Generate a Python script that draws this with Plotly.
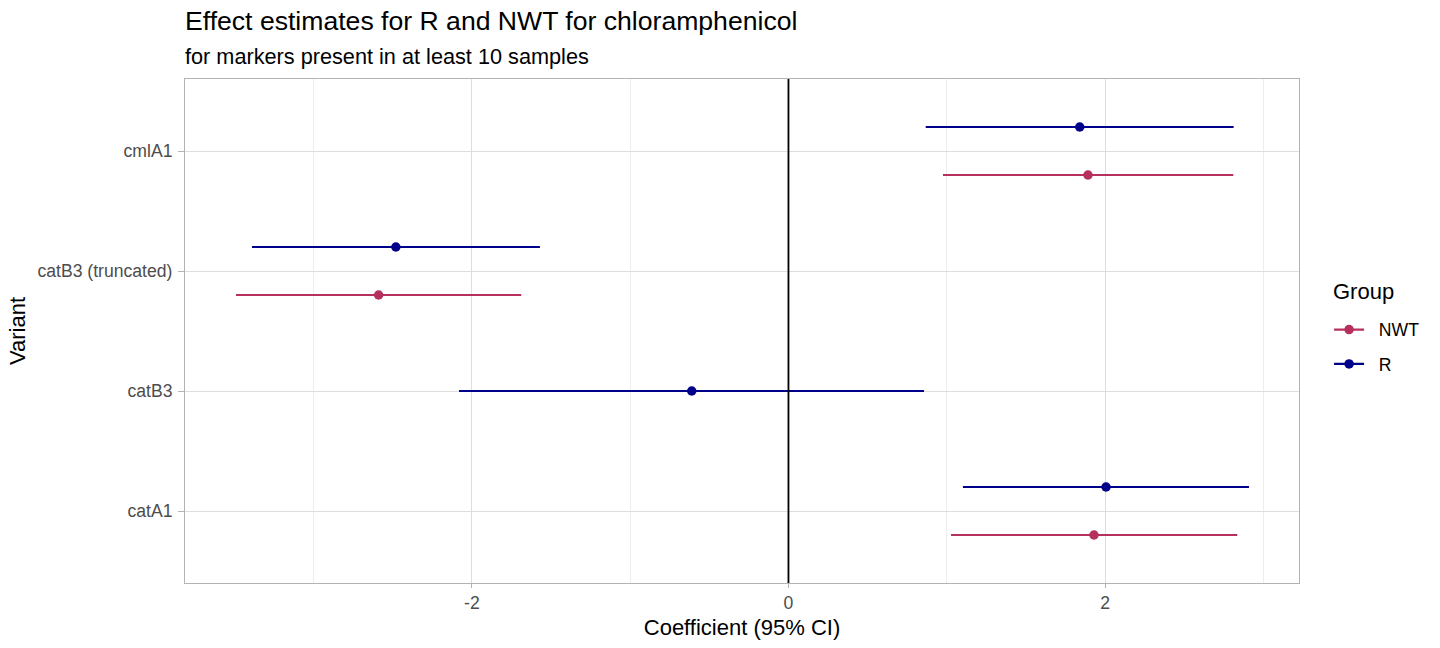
import plotly.graph_objects as go

# ---- data ----
variants = ["catA1", "catB3", "catB3 (truncated)", "cmlA1"]   # bottom -> top

groups = ["NWT", "R"]
colors = {"NWT": "#B5305F", "R": "#00008B"}

# per group: variant, estimate, lower CI, upper CI
nwt_variant = ["cmlA1", "catB3 (truncated)", "catA1"]
nwt_est = [1.892, -2.589, 1.930]
nwt_lo = [0.976, -3.490, 1.027]
nwt_hi = [2.810, -1.688, 2.835]

r_variant = ["cmlA1", "catB3 (truncated)", "catB3", "catA1"]
r_est = [1.840, -2.480, -0.611, 2.006]
r_lo = [0.867, -3.389, -2.081, 1.102]
r_hi = [2.812, -1.570, 0.856, 2.909]

x_ticks = [-2, 0, 2]
x_minor = [-3, -1, 1, 3]

data = {
    "NWT": (nwt_variant, nwt_est, nwt_lo, nwt_hi),
    "R": (r_variant, r_est, r_lo, r_hi),
}

FONT = "Liberation Sans, Arial, sans-serif"
pos = {v: i + 1 for i, v in enumerate(variants)}

# dodge: count groups present per variant
present = {v: [g for g in groups if v in data[g][0]] for v in variants}
dodge_w = 0.8


def ypos(v, g):
    gs = present[v]
    n = len(gs)
    if n == 1:
        return pos[v]
    k = gs.index(g)
    return pos[v] - dodge_w / 2 + dodge_w * (k + 0.5) / n


fig = go.Figure()

# zero line
fig.add_shape(type="line", xref="x", yref="paper", x0=0, x1=0, y0=0, y1=1,
              line=dict(color="black", width=1.8), layer="above")

for g in groups:
    vs, est, lo, hi = data[g]
    lx, ly = [], []
    for v, a, b in zip(vs, lo, hi):
        y = ypos(v, g)
        lx += [a, b, None]
        ly += [y, y, None]
    fig.add_trace(go.Scatter(x=lx, y=ly, mode="lines", legendgroup=g,
                             line=dict(color=colors[g], width=2.2),
                             showlegend=False, hoverinfo="skip"))
    px, py = [], []
    for v, e in zip(vs, est):
        px += [e, None]
        py += [ypos(v, g), None]
    fig.add_trace(go.Scatter(x=px, y=py, mode="lines+markers",
                             name="\u00a0\u00a0" + g, legendgroup=g,
                             line=dict(color=colors[g], width=2.2),
                             marker=dict(color=colors[g], size=9.5)))

fig.update_layout(
    width=1440, height=648,
    margin=dict(l=185, r=141, t=79, b=65),
    paper_bgcolor="white", plot_bgcolor="white",
    font=dict(family=FONT, color="black"),
    legend=dict(
        font=dict(size=17.6, color="black"),
        x=1.027, xanchor="left", y=0.468, yanchor="middle",
        tracegroupgap=8.5, itemwidth=30,
    ),
    annotations=[
        dict(text="Effect estimates for R and NWT for chloramphenicol",
             xref="paper", yref="paper", x=0, y=1.115, xanchor="left", yanchor="middle",
             xshift=-2, showarrow=False, font=dict(size=26.6, color="black")),
        dict(text="for markers present in at least 10 samples",
             xref="paper", yref="paper", x=0, y=1.045, xanchor="left", yanchor="middle",
             xshift=-2, showarrow=False, font=dict(size=21.7, color="black")),
        dict(text="Group",
             xref="paper", yref="paper", x=1.0287, y=0.5774, xanchor="left", yanchor="middle",
             showarrow=False, font=dict(size=22, color="black")),
    ],
)

fig.update_xaxes(
    range=[-3.812, 3.225], tickvals=x_ticks, ticktext=[str(t) for t in x_ticks],
    showgrid=True, gridcolor="#DEDEDE", gridwidth=1.07,
    minor=dict(tickvals=x_minor, showgrid=True, gridcolor="#EDEDED", gridwidth=0.6, ticks=""),
    zeroline=False, showline=True, linecolor="#B3B3B3", linewidth=1.1, mirror=True,
    ticks="outside", ticklen=4, tickcolor="#B3B3B3", tickwidth=1.07,
    tickfont=dict(size=17.6, color="#4D4D4D"),
    title=dict(text="Coefficient (95% CI)", font=dict(size=22, color="black"), standoff=7),
)
fig.update_yaxes(
    range=[0.4, 4.6], tickvals=[pos[v] for v in variants], ticktext=variants,
    showgrid=True, gridcolor="#DEDEDE", gridwidth=1.07,
    zeroline=False, showline=True, linecolor="#B3B3B3", linewidth=1.1, mirror=True,
    ticks="outside", ticklen=6, tickcolor="#B3B3B3", tickwidth=1.07, ticklabelstandoff=2,
    tickfont=dict(size=17.6, color="#4D4D4D"),
    title=dict(text="Variant", font=dict(size=22, color="black"), standoff=5),
)

fig.write_html("out.html", config={"displayModeBar": False},
               post_script="document.body.style.margin='0';")
